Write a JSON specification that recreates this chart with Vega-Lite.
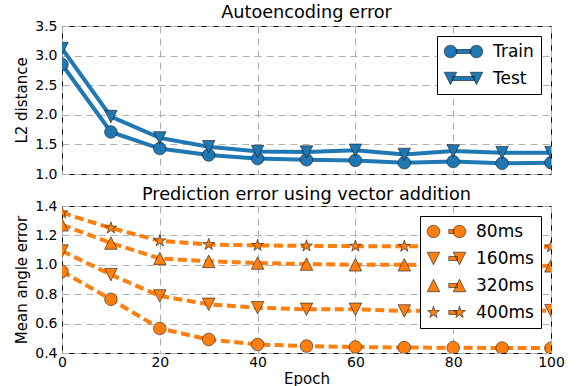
{
  "$schema": "https://vega.github.io/schema/vega-lite/v6.json",
  "padding": {"left": 14, "top": 3, "right": 10, "bottom": 0},
  "config": {
    "font": "DejaVu Sans",
    "view": {"stroke": "black", "strokeWidth": 1},
    "axis": {"grid": true, "gridDash": [7, 5], "gridColor": "#b0b0b0", "gridWidth": 1, "domain": false, "ticks": false, "labelFlush": false,
      "labelFont": "DejaVu Sans", "labelFontSize": 14, "labelColor": "black", "labelPadding": 5,
      "titleFont": "DejaVu Sans", "titleFontSize": 15, "titleFontWeight": "normal", "titleColor": "black", "titlePadding": 5},
    "title": {"font": "DejaVu Sans", "fontSize": 17.7, "fontWeight": "normal", "color": "black", "frame": "group"},
    "legend": {"title": null, "orient": "top-right", "offset": 10, "symbolSize": 256, "symbolStrokeWidth": 0.6, "symbolOpacity": 1,
      "labelFont": "DejaVu Sans", "labelFontSize": 17, "labelColor": "black", "labelOffset": 32, "rowPadding": 9, "padding": 7,
      "strokeColor": "black", "fillColor": "white", "columns": 1},
    "concat": {"spacing": 3}
  },
  "datasets": {
    "auto": [
      {"epoch": 0, "series": "Train", "value": 2.85}, {"epoch": 10, "series": "Train", "value": 1.71}, {"epoch": 20, "series": "Train", "value": 1.43},
      {"epoch": 30, "series": "Train", "value": 1.32}, {"epoch": 40, "series": "Train", "value": 1.26}, {"epoch": 50, "series": "Train", "value": 1.24},
      {"epoch": 60, "series": "Train", "value": 1.23}, {"epoch": 70, "series": "Train", "value": 1.19}, {"epoch": 80, "series": "Train", "value": 1.21},
      {"epoch": 90, "series": "Train", "value": 1.18}, {"epoch": 100, "series": "Train", "value": 1.19},
      {"epoch": 0, "series": "Test", "value": 3.12}, {"epoch": 10, "series": "Test", "value": 1.97}, {"epoch": 20, "series": "Test", "value": 1.61},
      {"epoch": 30, "series": "Test", "value": 1.46}, {"epoch": 40, "series": "Test", "value": 1.38}, {"epoch": 50, "series": "Test", "value": 1.37},
      {"epoch": 60, "series": "Test", "value": 1.40}, {"epoch": 70, "series": "Test", "value": 1.33}, {"epoch": 80, "series": "Test", "value": 1.39},
      {"epoch": 90, "series": "Test", "value": 1.36}, {"epoch": 100, "series": "Test", "value": 1.36}
    ],
    "pred": [
      {"epoch": 0, "series": "80ms", "value": 0.955}, {"epoch": 10, "series": "80ms", "value": 0.765}, {"epoch": 20, "series": "80ms", "value": 0.567},
      {"epoch": 30, "series": "80ms", "value": 0.492}, {"epoch": 40, "series": "80ms", "value": 0.458}, {"epoch": 50, "series": "80ms", "value": 0.447},
      {"epoch": 60, "series": "80ms", "value": 0.441}, {"epoch": 70, "series": "80ms", "value": 0.437}, {"epoch": 80, "series": "80ms", "value": 0.436},
      {"epoch": 90, "series": "80ms", "value": 0.434}, {"epoch": 100, "series": "80ms", "value": 0.433},
      {"epoch": 0, "series": "160ms", "value": 1.094}, {"epoch": 10, "series": "160ms", "value": 0.933}, {"epoch": 20, "series": "160ms", "value": 0.788},
      {"epoch": 30, "series": "160ms", "value": 0.731}, {"epoch": 40, "series": "160ms", "value": 0.708}, {"epoch": 50, "series": "160ms", "value": 0.697},
      {"epoch": 60, "series": "160ms", "value": 0.697}, {"epoch": 70, "series": "160ms", "value": 0.686}, {"epoch": 80, "series": "160ms", "value": 0.69},
      {"epoch": 90, "series": "160ms", "value": 0.688}, {"epoch": 100, "series": "160ms", "value": 0.688},
      {"epoch": 0, "series": "320ms", "value": 1.272}, {"epoch": 10, "series": "320ms", "value": 1.148}, {"epoch": 20, "series": "320ms", "value": 1.043},
      {"epoch": 30, "series": "320ms", "value": 1.024}, {"epoch": 40, "series": "320ms", "value": 1.012}, {"epoch": 50, "series": "320ms", "value": 1.005},
      {"epoch": 60, "series": "320ms", "value": 1.0}, {"epoch": 70, "series": "320ms", "value": 1.0}, {"epoch": 80, "series": "320ms", "value": 0.997},
      {"epoch": 90, "series": "320ms", "value": 0.995}, {"epoch": 100, "series": "320ms", "value": 0.993},
      {"epoch": 0, "series": "400ms", "value": 1.354}, {"epoch": 10, "series": "400ms", "value": 1.25}, {"epoch": 20, "series": "400ms", "value": 1.163},
      {"epoch": 30, "series": "400ms", "value": 1.138}, {"epoch": 40, "series": "400ms", "value": 1.132}, {"epoch": 50, "series": "400ms", "value": 1.128},
      {"epoch": 60, "series": "400ms", "value": 1.127}, {"epoch": 70, "series": "400ms", "value": 1.126}, {"epoch": 80, "series": "400ms", "value": 1.125},
      {"epoch": 90, "series": "400ms", "value": 1.124}, {"epoch": 100, "series": "400ms", "value": 1.122}
    ]
  },
  "vconcat": [
    {
      "title": {"text": "Autoencoding error", "offset": -3},
      "width": 489, "height": 148,
      "data": {"name": "auto"},
      "encoding": {
        "x": {"field": "epoch", "type": "quantitative", "scale": {"domain": [0, 100], "nice": false},
          "axis": {"labels": false, "title": null, "values": [0, 20, 40, 60, 80, 100]}},
        "y": {"field": "value", "type": "quantitative", "scale": {"domain": [1, 3.5], "nice": false},
          "axis": {"title": "L2 distance", "values": [1, 1.5, 2, 2.5, 3, 3.5], "format": ".1f"}}
      },
      "layer": [
        {"mark": {"type": "line", "color": "#1f77b4", "strokeWidth": 4, "clip": true},
          "encoding": {"detail": {"field": "series"}}},
        {"mark": {"type": "point", "filled": true, "fill": "#1f77b4", "stroke": "#1a1a1a", "strokeWidth": 0.6, "opacity": 1, "size": 156, "clip": true},
          "encoding": {"shape": {"field": "series", "scale": {"domain": ["Train", "Test"],
            "range": ["M-1,0 A1,1 0 1,1 1,0 A1,1 0 1,1 -1,0 Z", "M-1,-1 L1,-1 L0,1 Z"]}, "legend": null}}},
        {"mark": {"type": "point", "filled": true, "color": "#1f77b4", "stroke": "#1a1a1a", "strokeWidth": 0.6, "opacity": 0},
          "encoding": {"shape": {"field": "series", "scale": {"domain": ["Train", "Test"],
            "range": [
              "M0.47,-0.25 L2.28,-0.25 L2.28,0.25 L0.47,0.25 Z M-1.03,0 A0.78,0.78 0 1,1 0.53,0 A0.78,0.78 0 1,1 -1.03,0 Z M2.22,0 A0.78,0.78 0 1,1 3.78,0 A0.78,0.78 0 1,1 2.22,0 Z",
              "M0,-0.25 L2.74,-0.25 L2.74,0.25 L0,0.25 Z M-1.03,-0.78 L0.53,-0.78 L-0.25,0.78 Z M2.22,-0.78 L3.78,-0.78 L3,0.78 Z"
            ]}, "legend": {}}}}
      ],
      "resolve": {"scale": {"shape": "independent"}, "legend": {"shape": "independent"}}
    },
    {
      "title": {"text": "Prediction error using vector addition", "offset": -5},
      "width": 489, "height": 147,
      "data": {"name": "pred"},
      "encoding": {
        "x": {"field": "epoch", "type": "quantitative", "scale": {"domain": [0, 100], "nice": false},
          "axis": {"title": "Epoch", "values": [0, 20, 40, 60, 80, 100], "labelPadding": 2, "titlePadding": 2}},
        "y": {"field": "value", "type": "quantitative", "scale": {"domain": [0.4, 1.4], "nice": false},
          "axis": {"title": "Mean angle error", "values": [0.4, 0.6, 0.8, 1.0, 1.2, 1.4], "format": ".1f"}}
      },
      "layer": [
        {"mark": {"type": "line", "color": "#ff7f0e", "strokeWidth": 4, "strokeDash": [9, 4.5], "clip": true},
          "encoding": {"detail": {"field": "series"}}},
        {"mark": {"type": "point", "filled": true, "fill": "#ff7f0e", "stroke": "#1a1a1a", "strokeWidth": 0.6, "opacity": 1, "size": 156, "clip": true},
          "encoding": {"shape": {"field": "series", "scale": {"domain": ["80ms", "160ms", "320ms", "400ms"],
            "range": ["M-1,0 A1,1 0 1,1 1,0 A1,1 0 1,1 -1,0 Z", "M-1,-1 L1,-1 L0,1 Z", "M0,-1 L1,1 L-1,1 Z",
              "M0,-1 L0.2245,-0.309 L0.9511,-0.309 L0.3633,0.118 L0.5878,0.809 L0,0.382 L-0.5878,0.809 L-0.3633,0.118 L-0.9511,-0.309 L-0.2245,-0.309 Z"]}, "legend": null}}},
        {"mark": {"type": "point", "filled": true, "color": "#ff7f0e", "stroke": "#1a1a1a", "strokeWidth": 0.6, "opacity": 0},
          "encoding": {"shape": {"field": "series", "scale": {"domain": ["80ms", "160ms", "320ms", "400ms"],
            "range": [
              "M1.66,-0.25 L2.27,-0.25 L2.27,0.25 L1.66,0.25 Z M-1.03,0 A0.78,0.78 0 1,1 0.53,0 A0.78,0.78 0 1,1 -1.03,0 Z M2.22,0 A0.78,0.78 0 1,1 3.78,0 A0.78,0.78 0 1,1 2.22,0 Z",
              "M1.66,-0.25 L2.74,-0.25 L2.74,0.25 L1.66,0.25 Z M-1.03,-0.78 L0.53,-0.78 L-0.25,0.78 Z M2.22,-0.78 L3.78,-0.78 L3,0.78 Z",
              "M1.66,-0.25 L2.74,-0.25 L2.74,0.25 L1.66,0.25 Z M-0.25,-0.78 L0.53,0.78 L-1.03,0.78 Z M3,-0.78 L3.78,0.78 L2.22,0.78 Z",
              "M1.66,-0.25 L2.6,-0.25 L2.6,0.25 L1.66,0.25 Z M-0.25,-0.78 L-0.075,-0.241 L0.492,-0.241 L0.033,0.092 L0.208,0.631 L-0.25,0.298 L-0.708,0.631 L-0.533,0.092 L-0.992,-0.241 L-0.425,-0.241 Z M3,-0.78 L3.175,-0.241 L3.742,-0.241 L3.283,0.092 L3.458,0.631 L3,0.298 L2.542,0.631 L2.717,0.092 L2.258,-0.241 L2.825,-0.241 Z"
            ]}, "legend": {}}}}
      ],
      "resolve": {"scale": {"shape": "independent"}, "legend": {"shape": "independent"}}
    }
  ],
  "resolve": {"scale": {"shape": "independent"}, "legend": {"shape": "independent"}}
}
